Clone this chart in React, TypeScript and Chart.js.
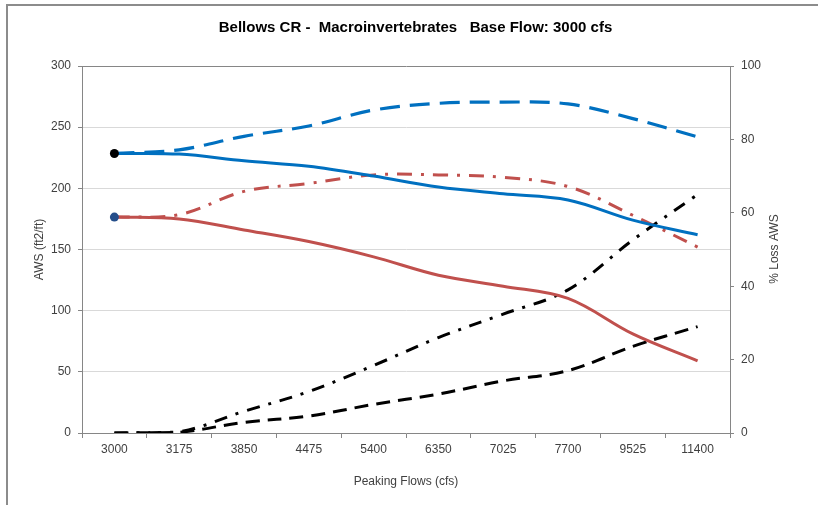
import React, { useEffect, useRef } from "react";
import { Chart, registerables } from "chart.js";

Chart.register(...registerables);

const categories = ["3000", "3175", "3850", "4475", "5400", "6350", "7025", "7700", "9525", "11400"];
const awsBlueSolid = [228.5, 228, 222.5, 218, 210, 201, 195.5, 190.5, 174, 162];
const awsBlueDashed = [228.5, 231.5, 242.5, 251, 264, 269.5, 270.5, 269, 257, 242];
const awsRedSolid = [176.5, 175, 166, 156.5, 144, 129, 120, 110, 81, 59];
const awsRedDashDot = [176.5, 178.5, 197.5, 204, 211, 211, 209, 201.5, 178, 152];
const lossBlackDashDot = [0, 0.3, 5.9, 11.3, 18.4, 26, 32.4, 39, 52.6, 65];
const lossBlackDashed = [0, 0.2, 2.9, 4.6, 7.8, 10.6, 14.2, 17, 23.6, 29];

const leftTicks = { min: 0, max: 300, step: 50 };
const rightTicks = { min: 0, max: 100, step: 20 };

const FONT = "'Liberation Sans', Arial, sans-serif";
const TEXT = "#404040";
const AXIS = "#868686";
const GRID = "#d9d9d9";
const W = 831;
const H = 505;

const rightTitlePlugin = {
  id: "rightTitle",
  afterDraw(chart: any) {
    const ctx = chart.ctx;
    ctx.save();
    ctx.font = `12px ${FONT}`;
    ctx.fillStyle = TEXT;
    ctx.textAlign = "center";
    ctx.textBaseline = "middle";
    ctx.translate(775, 249);
    ctx.rotate(-Math.PI / 2);
    ctx.fillText("% Loss AWS", 0, 0);
    ctx.restore();
  },
};

export default function App() {
  const ref = useRef<HTMLCanvasElement>(null);

  useEffect(() => {
    document.body.style.margin = "0";
    document.body.style.overflow = "hidden";
    const canvas = ref.current;
    if (!canvas) return;
    const firstPoint = (r: number) => (c: any) => (c.dataIndex === 0 ? r : 0);
    const chart = new Chart(canvas, {
      type: "line",
      data: {
        labels: categories,
        datasets: [
          {
            data: awsBlueSolid,
            borderColor: "#0070C0",
            borderWidth: 3,
            pointRadius: firstPoint(4.5),
            pointBackgroundColor: "#000000",
            pointBorderColor: "#000000",
            pointBorderWidth: 0,
            tension: 0.35,
            yAxisID: "y",
            order: 1,
          },
          {
            data: awsRedSolid,
            borderColor: "#C0504D",
            borderWidth: 3,
            pointRadius: firstPoint(4.5),
            pointBackgroundColor: "#254E8A",
            pointBorderColor: "#254E8A",
            pointBorderWidth: 0,
            tension: 0.35,
            yAxisID: "y",
            order: 2,
          },
          {
            data: awsBlueDashed,
            borderColor: "#0070C0",
            borderWidth: 3.2,
            borderDash: [20, 10],
            pointRadius: 0,
            tension: 0.35,
            yAxisID: "y",
            order: 3,
          },
          {
            data: awsRedDashDot,
            borderColor: "#C0504D",
            borderWidth: 3,
            borderDash: [15, 9, 3, 9],
            pointRadius: 0,
            tension: 0.35,
            yAxisID: "y",
            order: 4,
          },
          {
            data: lossBlackDashDot,
            borderColor: "#000000",
            borderWidth: 3,
            borderDash: [13, 9, 3, 9],
            pointRadius: 0,
            tension: 0.35,
            yAxisID: "y1",
            order: 5,
          },
          {
            data: lossBlackDashed,
            borderColor: "#000000",
            borderWidth: 3,
            borderDash: [14, 8],
            pointRadius: 0,
            tension: 0.35,
            yAxisID: "y1",
            order: 6,
          },
        ],
      },
      options: {
        responsive: false,
        animation: false,
        layout: { padding: 0 },
        plugins: {
          legend: { display: false },
          tooltip: { enabled: false },
          title: {
            display: true,
            text: "Bellows CR -  Macroinvertebrates   Base Flow: 3000 cfs",
            color: "#000000",
            font: { family: FONT, size: 15, weight: "bold", lineHeight: 1.2 },
            padding: { top: 19, bottom: 29 },
          },
        },
        scales: {
          x: {
            type: "category",
            offset: true,
            grid: {
              offset: true,
              drawOnChartArea: false,
              drawTicks: true,
              tickLength: 5,
              tickColor: AXIS,
            },
            border: { color: AXIS, width: 1 },
            ticks: {
              color: TEXT,
              font: { family: FONT, size: 12 },
              padding: 4,
              maxRotation: 0,
              autoSkip: false,
            },
            title: {
              display: true,
              text: "Peaking Flows (cfs)",
              color: TEXT,
              font: { family: FONT, size: 12, lineHeight: 1.2 },
              padding: { top: 0, bottom: 16 },
            },
            afterFit: (s: any) => {
              s.height = 72;
            },
          },
          y: {
            position: "left",
            min: leftTicks.min,
            max: leftTicks.max,
            ticks: {
              stepSize: leftTicks.step,
              color: TEXT,
              font: { family: FONT, size: 12 },
              padding: 7,
            },
            grid: {
              color: (c: any) => (c.tick && c.tick.value === leftTicks.max ? AXIS : GRID),
              tickColor: AXIS,
              tickLength: 4,
              lineWidth: 1,
            },
            border: { color: AXIS, width: 1 },
            title: {
              display: true,
              text: "AWS (ft2/ft)",
              color: TEXT,
              font: { family: FONT, size: 12, lineHeight: 1.2 },
              padding: { top: 32, bottom: 0 },
            },
            afterFit: (s: any) => {
              s.width = 82;
            },
          },
          y1: {
            position: "right",
            min: rightTicks.min,
            max: rightTicks.max,
            ticks: {
              stepSize: rightTicks.step,
              color: TEXT,
              font: { family: FONT, size: 12 },
              padding: 7,
            },
            grid: {
              drawOnChartArea: false,
              tickColor: AXIS,
              tickLength: 4,
            },
            border: { color: AXIS, width: 1 },
            afterFit: (s: any) => {
              s.width = W - 730;
            },
          },
        },
      },
      plugins: [rightTitlePlugin],
    });
    return () => chart.destroy();
  }, []);

  return (
    <div style={{ position: "relative", width: W, height: H, background: "#fff" }}>
      <canvas ref={ref} width={W} height={H} style={{ display: "block" }} />
      <div
        style={{
          position: "absolute",
          left: 6,
          top: 4,
          width: W,
          height: H,
          borderLeft: "2px solid #8c8c8c",
          borderTop: "2px solid #8c8c8c",
          pointerEvents: "none",
        }}
      />
    </div>
  );
}
